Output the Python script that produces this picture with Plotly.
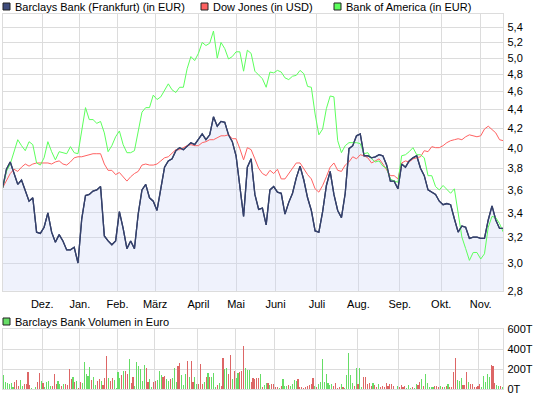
import math
import pandas as pd
import plotly.graph_objects as go

# ---------------- data ----------------
FIRST_DAY = "2009-11-02"
LAST_DAY = "2010-11-17"
HOLIDAYS = ["2009-12-24", "2009-12-25", "2009-12-31", "2010-01-01", "2010-04-02", "2010-04-05"]

month_labels = ["Dez.", "Jan.", "Feb.", "März", "April", "Mai", "Juni", "Juli",
                "Aug.", "Sep.", "Okt.", "Nov."]

# prices read every second trading day
barclays = [3.62, 3.79, 3.86, 3.76, 3.65, 3.69, 3.60, 3.50, 3.53, 3.24,
            3.23, 3.28, 3.40, 3.24, 3.16, 3.22, 3.17, 3.10, 3.10, 3.12,
            3.00, 3.35, 3.55, 3.56, 3.59, 3.60, 3.63, 3.21, 3.17, 3.14,
            3.17, 3.41, 3.27, 3.11,
            3.17, 3.11, 3.39, 3.60, 3.65, 3.53, 3.50, 3.42, 3.61, 3.81,
            3.87, 3.89, 3.97, 4.00, 3.98, 4.02, 4.05, 4.03, 4.08, 4.14,
            4.08, 4.13, 4.32, 4.22, 4.27, 4.26, 4.13, 4.06, 3.92, 3.61,
            3.37, 3.81, 3.89, 3.56,
            3.43, 3.44, 3.30, 3.60, 3.63, 3.58, 3.57, 3.39, 3.49, 3.57,
            3.71, 3.82, 3.69, 3.53, 3.42, 3.25, 3.24, 3.41, 3.64, 3.77,
            3.56, 3.42, 3.36, 3.57, 3.99, 4.02, 4.12, 4.14, 3.92, 3.92,
            3.90, 3.91, 3.93,
            3.92, 3.83, 3.68, 3.68, 3.61, 3.84, 3.81, 3.87, 3.90, 3.92,
            3.80, 3.73, 3.60, 3.58, 3.56, 3.50, 3.47, 3.48, 3.47, 3.35,
            3.24, 3.29, 3.28, 3.19, 3.20, 3.20, 3.19, 3.19, 3.34, 3.46,
            3.34, 3.27, 3.27]

dow_jones = [3.62, 3.68, 3.75, 3.79, 3.77, 3.81, 3.84, 3.82, 3.84, 3.85,
             3.85, 3.85, 3.85, 3.84, 3.86, 3.87, 3.84, 3.83, 3.86, 3.90,
             3.91, 3.91, 3.92, 3.93, 3.94, 3.94, 3.94, 3.84, 3.78, 3.78,
             3.74, 3.76, 3.72, 3.68,
             3.72, 3.75, 3.77, 3.83, 3.84, 3.83, 3.83, 3.84, 3.87, 3.90,
             3.91, 3.95, 3.98, 3.98, 4.00, 4.02, 4.03, 4.02, 4.02, 4.05,
             4.06, 4.08, 4.08, 4.10, 4.12, 4.12, 4.13, 4.09, 4.09, 3.99,
             3.88, 4.00, 3.98, 3.89,
             3.80, 3.75, 3.73, 3.78, 3.75, 3.79, 3.70, 3.70, 3.75, 3.81,
             3.85, 3.85, 3.79, 3.74, 3.70, 3.61, 3.58, 3.64, 3.72, 3.81,
             3.85, 3.78, 3.77, 3.83, 3.86, 3.91, 3.89, 3.93, 3.92, 3.90,
             3.85, 3.87, 3.89,
             3.84, 3.79, 3.73, 3.73, 3.70, 3.85, 3.87, 3.86, 3.89, 3.90,
             3.91, 3.97, 3.96, 4.01, 4.00, 4.00, 4.02, 4.05, 4.07, 4.08,
             4.09, 4.08, 4.11, 4.13, 4.12, 4.11, 4.12, 4.19, 4.22, 4.18,
             4.15, 4.08, 4.07]

bank_of_america = [3.62, 3.77, 3.84, 3.97, 4.08, 4.02, 3.97, 4.06, 4.03, 3.85,
                   3.83, 3.90, 4.06, 3.96, 3.88, 3.96, 3.95, 3.94, 4.01, 3.95,
                   3.94, 4.18, 4.42, 4.29, 4.29, 4.25, 4.27, 4.15, 3.96, 4.02,
                   4.11, 4.17, 4.03, 3.95,
                   3.95, 3.97, 4.17, 4.37, 4.42, 4.42, 4.56, 4.51, 4.54, 4.62,
                   4.69, 4.62, 4.59, 4.65, 4.65, 4.87, 5.02, 4.97, 5.06, 5.20,
                   5.16, 5.19, 5.35, 5.00, 5.20, 5.12, 4.99, 5.02, 5.08, 5.08,
                   4.84, 5.10, 5.06, 4.84,
                   4.79, 4.75, 4.65, 4.83, 4.82, 4.85, 4.83, 4.76, 4.74, 4.78,
                   4.79, 4.85, 4.81, 4.66, 4.65, 4.35, 4.13, 4.19, 4.41, 4.55,
                   4.54, 4.07, 3.95, 4.02, 4.05, 4.05, 4.05, 4.04, 3.94, 3.95,
                   3.89, 3.86, 3.87,
                   3.82, 3.80, 3.70, 3.68, 3.67, 3.92, 3.93, 3.96, 4.00, 3.93,
                   3.93, 3.90, 3.73, 3.73, 3.63, 3.60, 3.64, 3.60, 3.57, 3.61,
                   3.39, 3.20, 3.11, 3.02, 3.08, 3.08, 3.03, 3.07, 3.28, 3.37,
                   3.36, 3.31, 3.24]

# daily Barclays volume in thousand EUR, and day direction (g = up, r = down)
volume_t = [143, 70, 63, 57, 60, 27, 73, 93, 37, 93,
            37, 53, 53, 173, 43, 17, 5, 20, 73, 163,
            83, 67, 27, 73, 83, 33, 33, 153, 50, 83,
            53, 33, 53, 53, 43, 203, 100, 123, 73, 83,
            17, 70, 67, 273, 150, 133, 223, 93, 123, 40,
            83, 103, 80, 43, 113, 333, 113, 83, 113, 93,
            17, 177, 113, 143, 183, 183, 153, 303, 63, 123,
            30, 273, 233, 203, 87, 240, 213, 73, 103, 23,
            73, 83, 93, 183, 143, 123, 133, 103, 83, 103,
            113, 213, 73, 233, 263, 143, 43, 153, 283, 123,
            283, 73, 123, 53, 53, 253, 53, 73, 123, 163,
            123, 123, 163, 23, 40, 60, 30, 313, 203, 210,
            153, 343, 103, 183, 113, 163, 173, 183, 433, 213,
            193, 193, 73, 113, 103, 113, 113, 153, 23, 43,
            63, 63, 40, 57, 57, 23, 20, 13, 30, 100,
            30, 33, 40, 30, 50, 90, 80, 100, 27, 20,
            13, 20, 30, 40, 50, 110, 30, 20, 50, 70,
            303, 70, 150, 60, 40, 50, 30, 60, 13, 23,
            50, 23, 13, 140, 360, 140, 60, 30, 210, 50,
            210, 20, 120, 120, 50, 60, 30, 60, 40, 20,
            50, 20, 30, 20, 60, 30, 50, 50, 30, 7,
            30, 20, 40, 20, 30, 10, 40, 13, 20, 13,
            50, 40, 70, 100, 30, 150, 60, 20, 20, 20,
            30, 30, 20, 30, 20, 20, 30, 50, 20, 20,
            170, 310, 90, 80, 110, 40, 40, 170, 70, 50,
            50, 20, 20, 30, 50, 20, 130, 70, 150, 120,
            243, 230, 60, 40, 30, 30, 20]
volume_dir = ("ggggggrrrg" "grrrrgggrr" "grggggrrrg" "grgrrrrgrg" "rrgggggrgg"
              "rrgrrrgrrg" "gggrgrrgrr" "ggggggrrgg" "rrgggrrggr" "gggrrgggrg"
              "rrggrrrgrg" "rgggrgrrgg" "rrgrggrrrg" "ggrrrrrgrg" "grgrrrrgrg"
              "ggrggggrrr" "rrrrrrgrgg" "ggggggrrrr" "grgggggrgr" "ggrrrrrgrr"
              "grrrrrrrrr" "grrrrgggrg" "grrgrggggg" "rrrgrgrgrr" "rrgggrrrgr"
              "rrrrrggggg" "rrrggrg")

price_ticks = [2.8, 3.0, 3.2, 3.4, 3.6, 3.8, 4.0, 4.2, 4.4, 4.6, 4.8, 5.0, 5.2, 5.4]
volume_ticks = [0, 200, 400, 600]

# ---------------- derived ----------------
days = pd.bdate_range(FIRST_DAY, LAST_DAY)
days = days[~days.isin(pd.to_datetime(HOLIDAYS))]
n_days = len(days)
price_x = list(range(0, n_days, 2))
assert len(barclays) == len(dow_jones) == len(bank_of_america) == len(price_x)
assert len(volume_t) == len(volume_dir) == n_days
month_starts = [i for i in range(1, n_days) if days[i].month != days[i - 1].month]

W, H = 545, 398
PX_L, PX_R = 2.7, 503.3
MAIN_TOP, MAIN_BOT = 14.0, 290.7
VOL_TOP, VOL_BOT = 329.3, 389.3

px_per_ln = (MAIN_BOT - 27.3) / math.log(5.4 / 2.8)
y_top_val = 2.8 * math.exp((MAIN_BOT - MAIN_TOP) / px_per_ln)

FONT = "Liberation Sans, Arial, sans-serif"
GRID = "#dcdcdc"
NAVY = "#35416b"
RED = "#ff6262"
GREEN = "#5cff5c"
VGREEN = "#66dd66"
VRED = "#dd6666"

fig = go.Figure()

fig.add_trace(go.Scatter(x=price_x, y=barclays, mode="lines",
                         line=dict(color=NAVY, width=1.3),
                         fill="tozeroy", fillcolor="rgba(205,215,245,0.32)",
                         xaxis="x", yaxis="y", hoverinfo="skip"))
fig.add_trace(go.Scatter(x=price_x, y=dow_jones, mode="lines",
                         line=dict(color=RED, width=1),
                         xaxis="x", yaxis="y", hoverinfo="skip"))
fig.add_trace(go.Scatter(x=price_x, y=bank_of_america, mode="lines",
                         line=dict(color=GREEN, width=1),
                         xaxis="x", yaxis="y", hoverinfo="skip"))
fig.add_trace(go.Scatter(x=price_x, y=barclays, mode="lines",
                         line=dict(color=NAVY, width=1.3),
                         xaxis="x", yaxis="y", hoverinfo="skip"))

fig.add_trace(go.Bar(x=list(range(n_days)), y=volume_t,
                     marker=dict(color=[VGREEN if d == "g" else VRED for d in volume_dir],
                                 line=dict(width=0)),
                     width=0.6, xaxis="x2", yaxis="y2", hoverinfo="skip"))

xdom = [PX_L / W, PX_R / W]
axis_common = dict(showgrid=True, gridcolor=GRID, gridwidth=1,
                   showline=True, mirror=True, linecolor=GRID, linewidth=1,
                   ticks="", zeroline=False)
tickfont = dict(family=FONT, size=11, color="#000")
fig.update_layout(
    width=W, height=H,
    margin=dict(l=0, r=0, t=0, b=0, autoexpand=False),
    paper_bgcolor="white", plot_bgcolor="white",
    showlegend=False, hovermode=False,
    font=dict(family=FONT, size=11, color="#000000"),
    bargap=0,
    xaxis=dict(domain=xdom, range=[0, n_days - 1],
               tickvals=month_starts, ticktext=month_labels,
               ticklabelstandoff=3, tickfont=tickfont, **axis_common),
    yaxis=dict(domain=[1 - MAIN_BOT / H, 1 - MAIN_TOP / H], type="log",
               range=[math.log10(2.8), math.log10(y_top_val)],
               side="right", tickvals=price_ticks,
               ticktext=[f"{v:.1f}".replace(".", ",") for v in price_ticks],
               ticklabelstandoff=1, tickfont=tickfont, **axis_common),
    xaxis2=dict(domain=xdom, range=[-0.5, n_days - 0.5], anchor="y2",
                tickvals=[m - 0.5 for m in month_starts], showticklabels=False,
                **axis_common),
    yaxis2=dict(domain=[1 - VOL_BOT / H, 1 - VOL_TOP / H], anchor="x2",
                range=[0, 600], side="right", tickvals=volume_ticks,
                ticktext=[f"{v}T" for v in volume_ticks],
                ticklabelstandoff=1, tickfont=tickfont, **axis_common),
)

def box(x0, y0, color):
    fig.add_shape(type="rect", xref="paper", yref="paper",
                  x0=x0 / W, x1=(x0 + 7) / W, y0=1 - (y0 + 7) / H, y1=1 - y0 / H,
                  fillcolor=color, line=dict(color="#222222", width=1))

def label(x, y, text):
    fig.add_annotation(xref="paper", yref="paper", x=x / W, y=1 - y / H,
                       text=text, showarrow=False, xanchor="left", yanchor="middle",
                       borderpad=0, font=dict(family=FONT, size=11, color="#000"))

box(3, 3, "#3e4c7c")
label(14, 6.5, "Barclays Bank (Frankfurt) (in EUR)")
box(201, 3, RED)
label(212, 6.5, "Dow Jones (in USD)")
box(334, 3, GREEN)
label(345, 6.5, "Bank of America (in EUR)")
box(3, 318, VGREEN)
label(14, 321.5, "Barclays Bank Volumen in Euro")

fig.write_html("out.html", config={"displayModeBar": False, "staticPlot": True},
               post_script="document.body.style.margin='0';")
